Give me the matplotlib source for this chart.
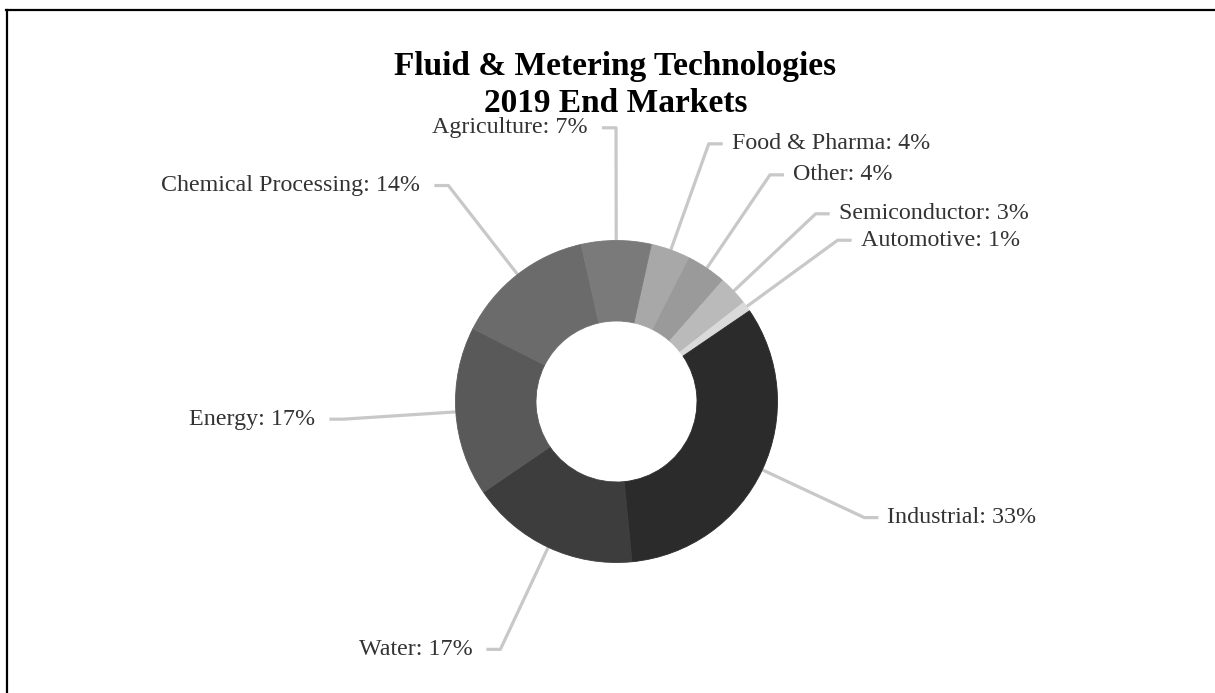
import numpy as np
import matplotlib
matplotlib.use('Agg')
import matplotlib.pyplot as plt
from matplotlib.lines import Line2D

# end market split, clockwise from the top
markets = ['Food & Pharma', 'Other', 'Semiconductor', 'Automotive', 'Industrial',
           'Water', 'Energy', 'Chemical Processing', 'Agriculture']
shares = [4, 4, 3, 1, 33, 17, 17, 14, 7]
colors = ['#a8a8a8', '#9a9a9a', '#bababa', '#dadada', '#2b2b2b',
          '#3d3d3d', '#595959', '#6b6b6b', '#7a7a7a']

plt.rcParams['font.family'] = ['Liberation Serif', 'DejaVu Serif']

fig = plt.figure(figsize=(12.15, 6.93), dpi=100)
ax = fig.add_axes([0, 0, 1, 1])

start = 77.5
wedges, _ = ax.pie(shares, colors=colors, startangle=start, counterclock=False,
                   radius=1, wedgeprops=dict(width=0.5, linewidth=0.6))
# paint the edges in the face colour so no seams show between slices
for w, c in zip(wedges, colors):
    w.set_edgecolor(c)

# map data units to pixels: center at (616.5, 401.5) px, radius 161 px
R = 161.0
ax.set_xlim(-616.5 / R, (1215 - 616.5) / R)
ax.set_ylim(-(693 - 401.5) / R, 401.5 / R)
ax.set_aspect('equal')
ax.axis('off')

# leader lines and labels
line_col = '#c8c8c8'
r_out = 1.7
hook = 14 / R
for w, name, val in zip(wedges, markets, shares):
    mid = np.deg2rad((w.theta1 + w.theta2) / 2)
    x0, y0 = np.cos(mid), np.sin(mid)
    x1, y1 = r_out * np.cos(mid), r_out * np.sin(mid)
    side = 1 if x1 > 0 else -1
    x2 = x1 + side * hook
    gap = (9 if side > 0 else 14) / R
    ax.plot([x0, x1, x2], [y0, y1, y1], color=line_col, lw=2.3,
            solid_capstyle='butt', solid_joinstyle='round', zorder=0)
    ax.text(x2 + side * gap, y1, f'{name}: {val}%', fontsize=17.3, color='#333333',
            ha='left' if side > 0 else 'right', va='center')

# title
fig.text(615 / 1215, 1 - 75 / 693, 'Fluid & Metering Technologies', fontsize=24,
         fontweight='bold', ha='center', va='baseline', color='black')
fig.text(616 / 1215, 1 - 112 / 693, '2019 End Markets', fontsize=24,
         fontweight='bold', ha='center', va='baseline', color='black')

# frame lines on the top and left edge
fig.add_artist(Line2D([6 / 1215, 1], [1 - 10 / 693, 1 - 10 / 693],
                      transform=fig.transFigure, color='black', lw=1.6))
fig.add_artist(Line2D([7 / 1215, 7 / 1215], [0, 1 - 10 / 693],
                      transform=fig.transFigure, color='black', lw=1.6))

fig.savefig('out.png', dpi=100, facecolor='white')
